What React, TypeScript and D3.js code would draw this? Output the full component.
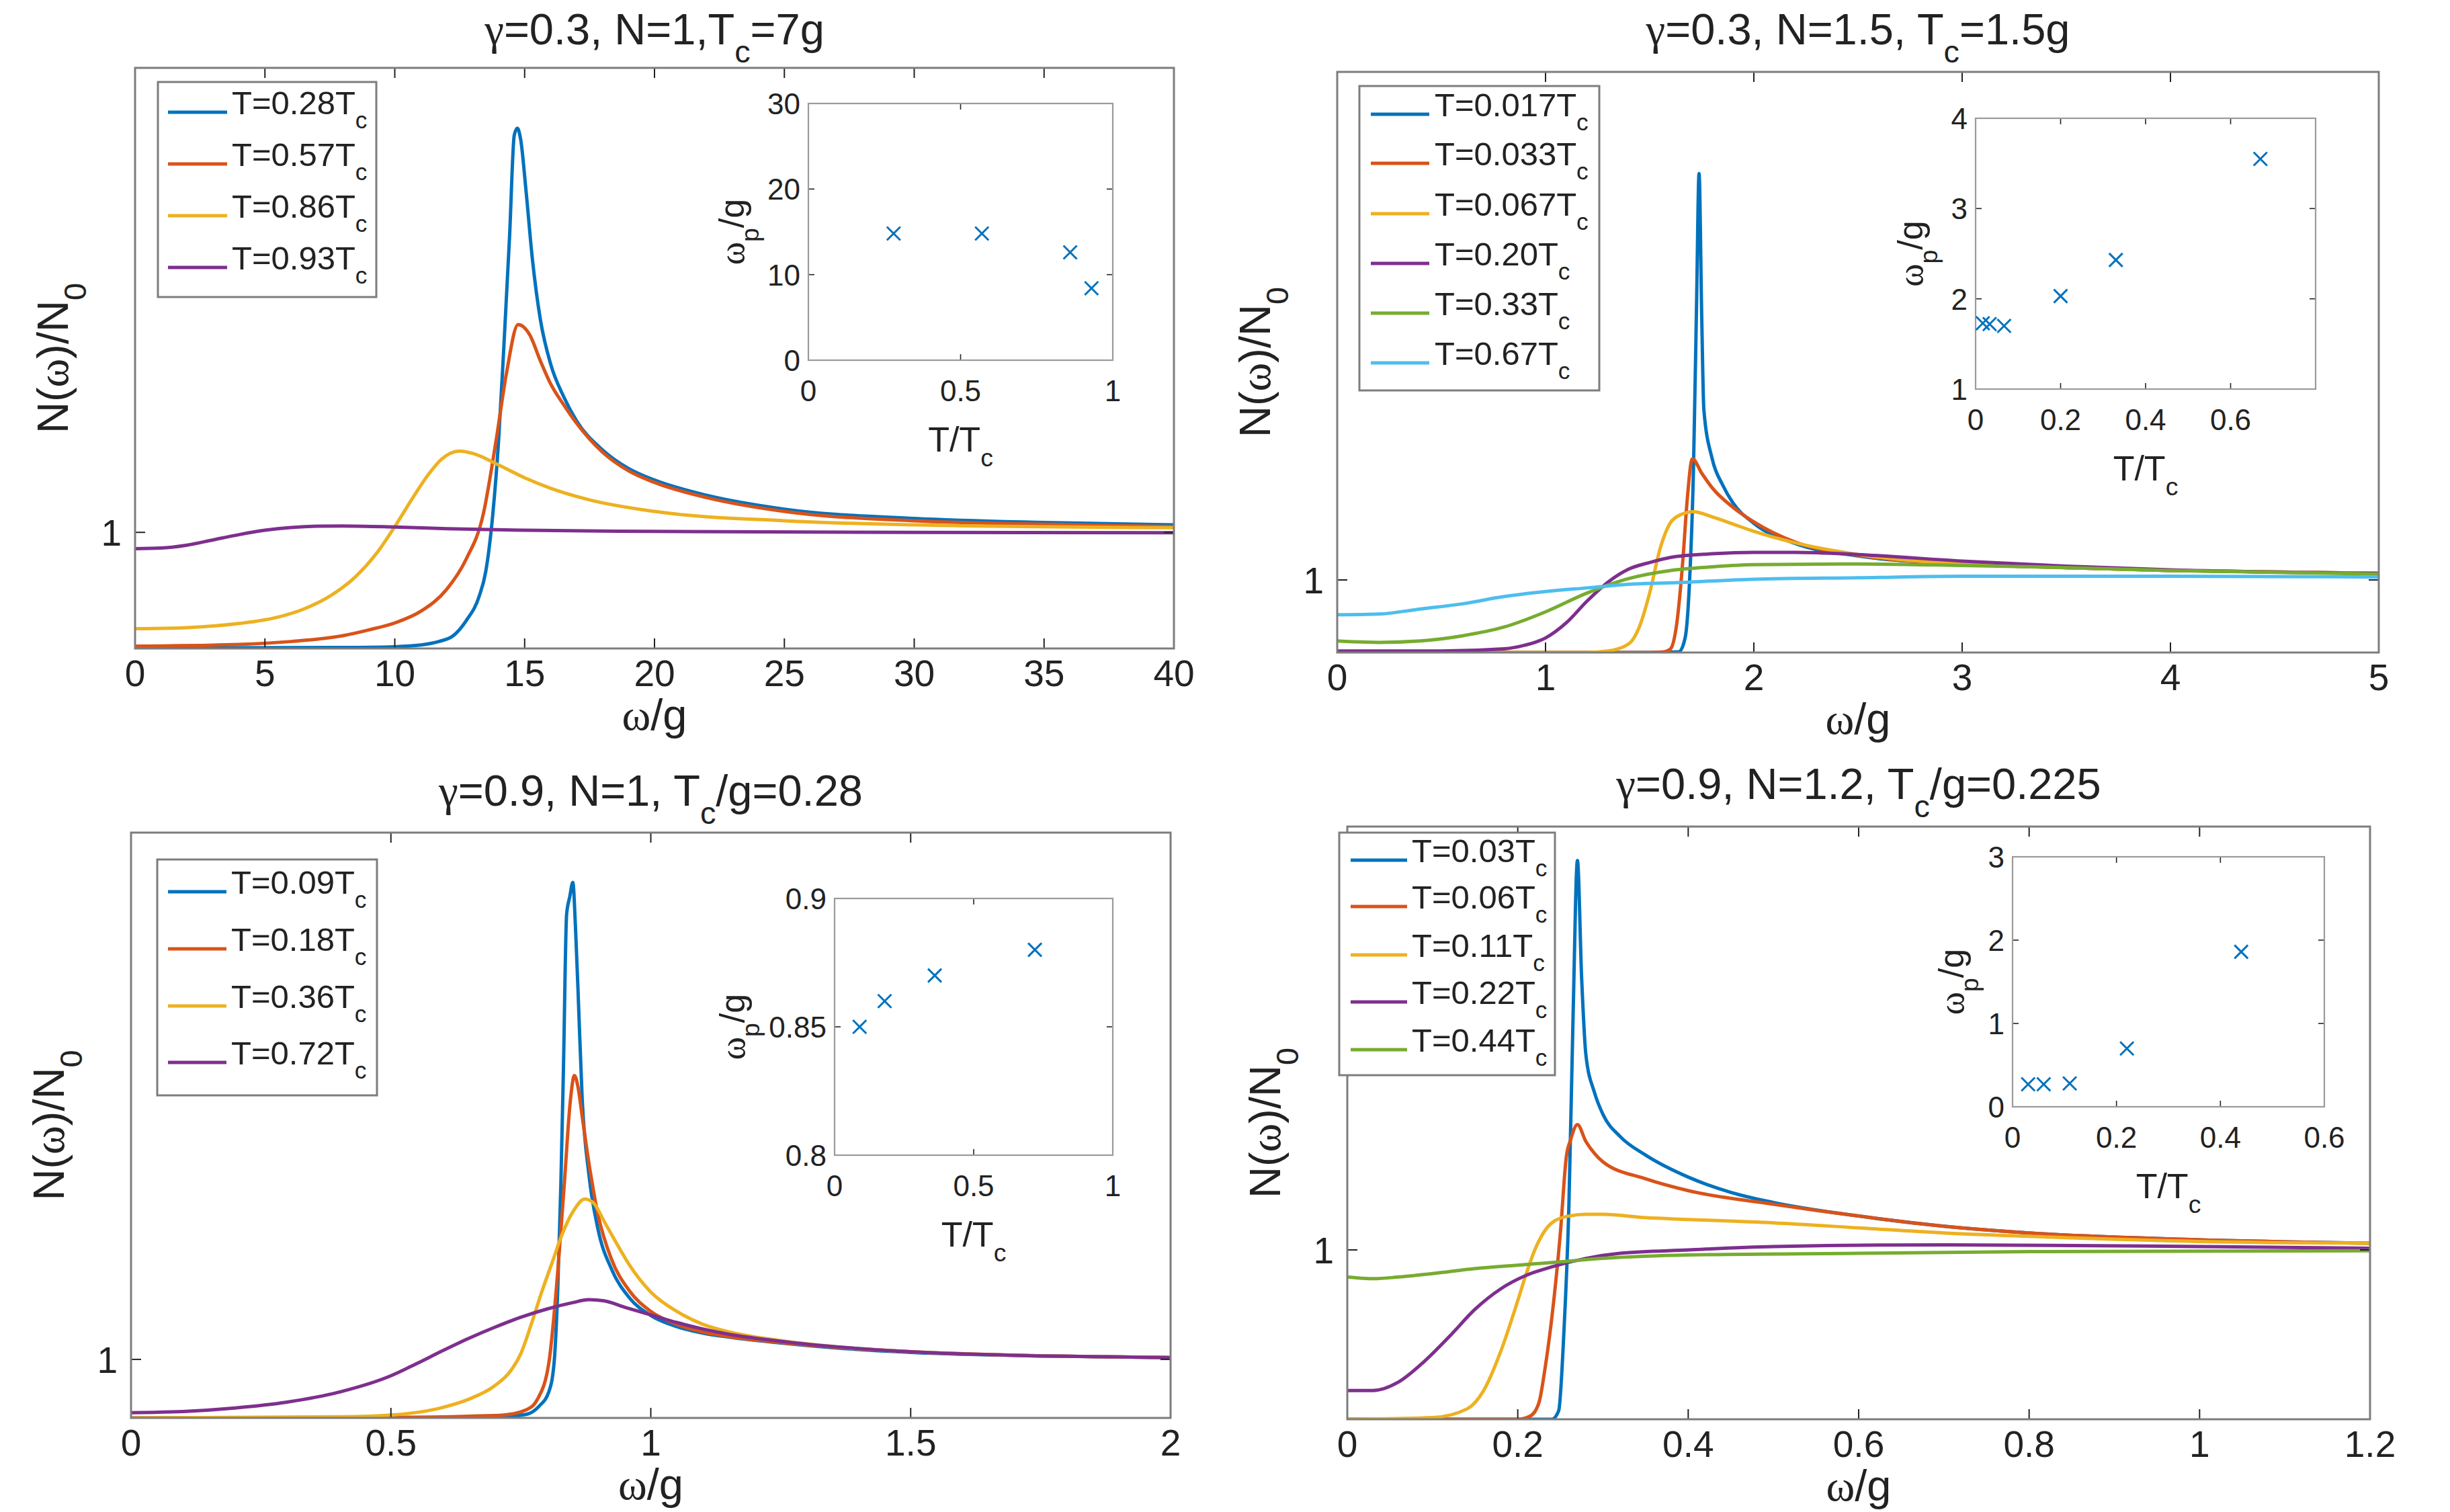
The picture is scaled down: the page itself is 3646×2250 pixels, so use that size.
import React from 'react';
import * as d3 from 'd3';

type Pt = [number, number];

// ---------- Panel A: γ=0.3, N=1, Tc=7g ----------
const aXTicks = [0, 5, 10, 15, 20, 25, 30, 35, 40];
const aLabels = ['0.28', '0.57', '0.86', '0.93'];
const aT028: Pt[] = [[0, 0.005], [8, 0.008], [10, 0.015], [11, 0.03], [11.7, 0.06], [12.25, 0.11], [12.75, 0.24], [13.25, 0.45], [13.5, 0.66], [13.75, 1.1], [14, 1.8], [14.2, 2.6], [14.42, 3.55], [14.6, 4.42], [14.72, 4.48], [14.85, 4.38], [15.05, 3.95], [15.3, 3.35], [15.6, 2.84], [16, 2.45], [16.5, 2.17], [17, 1.96], [18, 1.71], [19, 1.55], [20, 1.45], [22, 1.32], [25, 1.2], [30, 1.12], [35, 1.085], [40, 1.065]];
const aT057: Pt[] = [[0, 0.02], [4, 0.035], [6, 0.06], [8, 0.11], [9, 0.16], [10, 0.22], [11, 0.32], [12, 0.51], [12.75, 0.77], [13.4, 1.15], [13.9, 1.79], [14.3, 2.37], [14.75, 2.79], [15.2, 2.7], [15.6, 2.48], [16, 2.28], [16.5, 2.1], [17, 1.94], [18, 1.69], [19, 1.53], [20, 1.43], [22, 1.3], [25, 1.18], [30, 1.1], [35, 1.07], [40, 1.05]];
const aT086: Pt[] = [[0, 0.17], [2, 0.18], [4, 0.215], [5.5, 0.27], [6.5, 0.34], [7.5, 0.45], [8.5, 0.62], [9.3, 0.82], [10, 1.05], [10.7, 1.3], [11.3, 1.5], [11.8, 1.63], [12.5, 1.7], [13, 1.68], [14, 1.58], [15, 1.47], [16, 1.38], [17.5, 1.28], [20, 1.18], [25, 1.1], [30, 1.065], [40, 1.04]];
const aT093: Pt[] = [[0, 0.86], [1, 0.865], [2, 0.89], [3, 0.935], [4, 0.98], [5, 1.018], [6, 1.042], [7, 1.053], [8, 1.055], [10, 1.046], [12, 1.032], [15, 1.018], [20, 1.008], [30, 1.0], [40, 0.997]];
const aInsetT = [0.28, 0.57, 0.86, 0.93];
const aInsetW = [14.8, 14.8, 12.6, 8.4];
const aInsetXTicks = [0, 0.5, 1];
const aInsetYTicks = [0, 10, 20, 30];

// ---------- Panel B: γ=0.3, N=1.5, Tc=1.5g ----------
const bXTicks = [0, 1, 2, 3, 4, 5];
const bLabels = ['0.017', '0.033', '0.067', '0.20', '0.33', '0.67'];
const bT0017: Pt[] = [[0, 0], [1.5, 0], [1.64, 0.01], [1.67, 0.2], [1.69, 0.9], [1.71, 2.5], [1.725, 4.8], [1.737, 6.6], [1.75, 4.6], [1.76, 3.35], [1.8, 2.67], [1.85, 2.31], [1.9, 2.06], [2, 1.78], [2.2, 1.5], [2.5, 1.33], [3, 1.22], [3.5, 1.17], [4, 1.13], [5, 1.09]];
const bT0033: Pt[] = [[0, 0], [1.5, 0], [1.57, 0.01], [1.6, 0.05], [1.63, 0.4], [1.66, 1.3], [1.68, 2.1], [1.705, 2.67], [1.75, 2.47], [1.8, 2.27], [1.9, 2.0], [2, 1.8], [2.2, 1.52], [2.5, 1.34], [3, 1.22], [3.5, 1.17], [4, 1.13], [5, 1.09]];
const bT0067: Pt[] = [[0, 0], [1.2, 0], [1.3, 0.02], [1.4, 0.12], [1.45, 0.35], [1.5, 0.82], [1.55, 1.43], [1.6, 1.79], [1.65, 1.9], [1.71, 1.94], [1.8, 1.87], [1.9, 1.77], [2, 1.67], [2.2, 1.51], [2.5, 1.35], [3, 1.22], [3.5, 1.17], [4, 1.13], [5, 1.09]];
const bT020: Pt[] = [[0, 0.02], [0.5, 0.02], [0.8, 0.05], [0.9, 0.1], [1, 0.2], [1.1, 0.41], [1.2, 0.71], [1.3, 0.97], [1.4, 1.15], [1.5, 1.24], [1.6, 1.31], [1.8, 1.36], [2, 1.38], [2.2, 1.38], [2.5, 1.35], [3, 1.26], [3.5, 1.19], [4, 1.14], [5, 1.09]];
const bT033: Pt[] = [[0, 0.16], [0.2, 0.14], [0.4, 0.16], [0.6, 0.23], [0.8, 0.35], [1, 0.56], [1.2, 0.82], [1.4, 1.02], [1.6, 1.13], [1.8, 1.18], [2, 1.21], [2.5, 1.22], [3, 1.2], [3.5, 1.17], [4, 1.13], [5, 1.08]];
const bT067: Pt[] = [[0, 0.52], [0.2, 0.53], [0.4, 0.6], [0.6, 0.67], [0.8, 0.77], [1, 0.84], [1.2, 0.89], [1.4, 0.94], [1.6, 0.96], [2, 1.01], [2.5, 1.03], [3, 1.05], [4, 1.05], [5, 1.04]];
const bInsetT = [0.017, 0.033, 0.067, 0.2, 0.33, 0.67];
const bInsetW = [1.73, 1.72, 1.7, 2.03, 2.43, 3.55];
const bInsetXTicks = [0, 0.2, 0.4, 0.6];
const bInsetYTicks = [1, 2, 3, 4];

// ---------- Panel C: γ=0.9, N=1, Tc/g=0.28 ----------
const cXTicks = [0, 0.5, 1, 1.5, 2];
const cLabels = ['0.09', '0.18', '0.36', '0.72'];
const cT009: Pt[] = [[0, 0], [0.6, 0], [0.7, 0.01], [0.76, 0.06], [0.785, 0.2], [0.804, 0.45], [0.814, 0.95], [0.821, 2.2], [0.827, 4.0], [0.832, 6.0], [0.838, 8.6], [0.844, 8.9], [0.85, 9.15], [0.855, 8.4], [0.86, 7.3], [0.868, 5.45], [0.881, 4.15], [0.899, 3.2], [0.924, 2.55], [0.959, 2.05], [1, 1.75], [1.05, 1.56], [1.1, 1.45], [1.15, 1.38], [1.25, 1.28], [1.35, 1.2], [1.5, 1.12], [1.75, 1.06], [2, 1.03]];
const cT018: Pt[] = [[0, 0], [0.5, 0.01], [0.65, 0.03], [0.717, 0.05], [0.761, 0.14], [0.782, 0.32], [0.804, 0.95], [0.821, 2.5], [0.834, 4.05], [0.845, 5.4], [0.853, 5.85], [0.86, 5.65], [0.868, 5.15], [0.881, 4.35], [0.899, 3.45], [0.924, 2.72], [0.959, 2.17], [1, 1.82], [1.05, 1.6], [1.1, 1.47], [1.15, 1.39], [1.25, 1.29], [1.35, 1.21], [1.5, 1.13], [1.75, 1.06], [2, 1.03]];
const cT036: Pt[] = [[0, 0], [0.4, 0.02], [0.5, 0.05], [0.6, 0.18], [0.65, 0.32], [0.7, 0.55], [0.73, 0.8], [0.75, 1.1], [0.77, 1.6], [0.79, 2.15], [0.81, 2.65], [0.83, 3.15], [0.85, 3.52], [0.873, 3.74], [0.89, 3.67], [0.912, 3.33], [0.933, 3.0], [0.959, 2.61], [1, 2.15], [1.05, 1.82], [1.1, 1.6], [1.15, 1.47], [1.25, 1.32], [1.35, 1.22], [1.5, 1.13], [1.75, 1.06], [2, 1.03]];
const cT072: Pt[] = [[0, 0.09], [0.1, 0.11], [0.2, 0.17], [0.3, 0.27], [0.4, 0.44], [0.5, 0.72], [0.55, 0.93], [0.6, 1.15], [0.65, 1.36], [0.7, 1.55], [0.75, 1.72], [0.8, 1.86], [0.85, 1.97], [0.88, 2.02], [0.91, 2.0], [0.95, 1.89], [1, 1.76], [1.05, 1.63], [1.1, 1.52], [1.15, 1.43], [1.25, 1.31], [1.35, 1.22], [1.5, 1.13], [1.75, 1.06], [2, 1.03]];
const cInsetT = [0.09, 0.18, 0.36, 0.72];
const cInsetW = [0.85, 0.86, 0.87, 0.88];
const cInsetXTicks = [0, 0.5, 1];
const cInsetYTicks = [0.8, 0.85, 0.9];

// ---------- Panel D: γ=0.9, N=1.2, Tc/g=0.225 ----------
const dXTicks = [0, 0.2, 0.4, 0.6, 0.8, 1, 1.2];
const dLabels = ['0.03', '0.06', '0.11', '0.22', '0.44'];
const dT003: Pt[] = [[0, 0], [0.24, 0], [0.248, 0.05], [0.254, 0.5], [0.26, 1.26], [0.265, 2.4], [0.27, 3.3], [0.275, 2.6], [0.28, 2.15], [0.29, 1.93], [0.3, 1.8], [0.32, 1.67], [0.35, 1.56], [0.4, 1.43], [0.45, 1.34], [0.5, 1.28], [0.6, 1.2], [0.7, 1.14], [0.8, 1.1], [1, 1.06], [1.2, 1.04]];
const dT006: Pt[] = [[0, 0], [0.2, 0], [0.215, 0.02], [0.225, 0.1], [0.232, 0.3], [0.24, 0.6], [0.25, 1.1], [0.257, 1.55], [0.262, 1.65], [0.27, 1.74], [0.28, 1.64], [0.29, 1.57], [0.3, 1.52], [0.35, 1.42], [0.4, 1.35], [0.5, 1.27], [0.6, 1.2], [0.7, 1.14], [0.8, 1.1], [1, 1.06], [1.2, 1.04]];
const dT011: Pt[] = [[0, 0], [0.1, 0.01], [0.14, 0.06], [0.16, 0.17], [0.18, 0.4], [0.2, 0.7], [0.21, 0.86], [0.22, 1.0], [0.23, 1.1], [0.24, 1.16], [0.26, 1.2], [0.28, 1.21], [0.3, 1.21], [0.35, 1.19], [0.4, 1.18], [0.5, 1.16], [0.6, 1.13], [0.7, 1.1], [0.8, 1.08], [1, 1.05], [1.2, 1.04]];
const dT022: Pt[] = [[0, 0.17], [0.03, 0.17], [0.06, 0.22], [0.09, 0.34], [0.12, 0.49], [0.15, 0.65], [0.18, 0.77], [0.21, 0.85], [0.24, 0.9], [0.28, 0.95], [0.32, 0.98], [0.4, 1.0], [0.5, 1.02], [0.7, 1.03], [1, 1.02], [1.2, 1.01]];
const dT044: Pt[] = [[0, 0.84], [0.03, 0.83], [0.06, 0.84], [0.1, 0.86], [0.15, 0.89], [0.2, 0.91], [0.25, 0.93], [0.3, 0.95], [0.4, 0.97], [0.6, 0.98], [0.8, 0.99], [1.2, 0.995]];
const dInsetT = [0.03, 0.06, 0.11, 0.22, 0.44];
const dInsetW = [0.27, 0.27, 0.28, 0.7, 1.86];
const dInsetXTicks = [0, 0.2, 0.4, 0.6];
const dInsetYTicks = [0, 1, 2, 3];

// ---------- styling ----------
const LINE_COLORS = ['#0072BD', '#D95319', '#EDB120', '#7E2F8E', '#77AC30', '#4DBEEE'];
const FONT = '"Liberation Sans", Arial, Helvetica, sans-serif';
const GREEK = '"Liberation Serif", "DejaVu Serif", serif';
const INK = '#222222';
const FRAME = '#7d7d7d';

type Run = { t: string; sub?: boolean; greek?: boolean };

function Rich({ runs, x, y, size, anchor = 'start', rotate = false }: {
  runs: Run[]; x: number; y: number; size: number; anchor?: string; rotate?: boolean;
}) {
  const shift = size * 0.42;
  let lowered = false;
  const spans = runs.map((r, i) => {
    let dy: number | undefined;
    if (r.sub && !lowered) { dy = shift; lowered = true; }
    else if (!r.sub && lowered) { dy = -shift; lowered = false; }
    return (
      <tspan key={i} dy={dy} fontSize={r.sub ? size * 0.72 : undefined}
        fontFamily={r.greek ? GREEK : undefined}>{r.t}</tspan>
    );
  });
  const transform = rotate ? `translate(${x},${y}) rotate(-90)` : `translate(${x},${y})`;
  return (
    <text transform={transform} fontSize={size} fontFamily={FONT} textAnchor={anchor as any} fill={INK}>
      {spans}
    </text>
  );
}

interface Box { left: number; right: number; top: number; bottom: number }
interface LegendLayout { box: Box; rows: number[]; lineX0: number; lineX1: number; textX: number }
interface InsetLayout extends Box { ylabOffset: number }
interface PanelLayout extends Box { titleY: number; legend: LegendLayout; inset: InsetLayout }

interface PanelSpec {
  id: string;
  title: Run[];
  xDomain: [number, number];
  yDomain: [number, number];
  xTicks: number[];
  curves: Pt[][];
  labels: string[];
  insetT: number[];
  insetW: number[];
  insetXDomain: [number, number];
  insetYDomain: [number, number];
  insetXTicks: number[];
  insetYTicks: number[];
  layout: PanelLayout;
}

const TICK_FONT = 55;
const LEGEND_FONT = 49;
const LABEL_FONT = 65;
const INSET_TICK_FONT = 44;
const INSET_LABEL_FONT = 52;

function Inset({ spec }: { spec: PanelSpec }) {
  const L = spec.layout.inset;
  const x = d3.scaleLinear().domain(spec.insetXDomain).range([L.left, L.right]);
  const y = d3.scaleLinear().domain(spec.insetYDomain).range([L.bottom, L.top]);
  const tl = 9;
  const m = 10;
  return (
    <g>
      <rect x={L.left} y={L.top} width={L.right - L.left} height={L.bottom - L.top} fill="#fff" stroke="none" />
      {spec.insetXTicks.map((t) => (
        <g key={'x' + t}>
          <line x1={x(t)} x2={x(t)} y1={L.bottom} y2={L.bottom - tl} stroke={INK} strokeWidth={1.6} />
          <line x1={x(t)} x2={x(t)} y1={L.top} y2={L.top + tl} stroke={INK} strokeWidth={1.6} />
          <text x={x(t)} y={L.bottom + 61} fontSize={INSET_TICK_FONT} fontFamily={FONT} textAnchor="middle" fill={INK}>{String(t)}</text>
        </g>
      ))}
      {spec.insetYTicks.map((t) => (
        <g key={'y' + t}>
          <line x1={L.left} x2={L.left + tl} y1={y(t)} y2={y(t)} stroke={INK} strokeWidth={1.6} />
          <line x1={L.right} x2={L.right - tl} y1={y(t)} y2={y(t)} stroke={INK} strokeWidth={1.6} />
          <text x={L.left - 12} y={y(t) + 16} fontSize={INSET_TICK_FONT} fontFamily={FONT} textAnchor="end" fill={INK}>{String(t)}</text>
        </g>
      ))}
      <rect x={L.left} y={L.top} width={L.right - L.left} height={L.bottom - L.top} fill="none" stroke="#9a9a9a" strokeWidth={2.2} />
      {spec.insetT.map((t, i) => {
        const cx = x(t);
        const cy = y(spec.insetW[i]);
        return (
          <path key={i} d={`M${cx - m},${cy - m}L${cx + m},${cy + m}M${cx - m},${cy + m}L${cx + m},${cy - m}`}
            stroke={LINE_COLORS[0]} strokeWidth={3} fill="none" />
        );
      })}
      <Rich runs={[{ t: 'T/T' }, { t: 'c', sub: true }]} x={(L.left + L.right) / 2} y={L.bottom + 136}
        size={INSET_LABEL_FONT} anchor="middle" />
      <Rich runs={[{ t: 'ω', greek: true }, { t: 'p', sub: true }, { t: '/g' }]} x={L.left - L.ylabOffset}
        y={(L.top + L.bottom) / 2} size={INSET_LABEL_FONT} anchor="middle" rotate />
    </g>
  );
}

function Panel({ spec }: { spec: PanelSpec }) {
  const L = spec.layout;
  const x = d3.scaleLinear().domain(spec.xDomain).range([L.left, L.right]);
  const y = d3.scaleLinear().domain(spec.yDomain).range([L.bottom, L.top]);
  const line = d3.line<Pt>().x((d) => x(d[0])).y((d) => y(d[1])).curve(d3.curveMonotoneX);
  const clipId = 'clip-' + spec.id;
  const tl = 15;
  const lg = L.legend;
  const cx = (L.left + L.right) / 2;
  const cy = (L.top + L.bottom) / 2;
  return (
    <g>
      <defs>
        <clipPath id={clipId}>
          <rect x={L.left} y={L.top} width={L.right - L.left} height={L.bottom - L.top} />
        </clipPath>
      </defs>
      <g clipPath={`url(#${clipId})`}>
        {spec.curves.map((c, i) => (
          <path key={i} d={line(c) || ''} fill="none" stroke={LINE_COLORS[i]} strokeWidth={5}
            strokeLinejoin="round" strokeLinecap="round" />
        ))}
      </g>
      {spec.xTicks.map((t) => (
        <g key={'xt' + t}>
          <line x1={x(t)} x2={x(t)} y1={L.bottom} y2={L.bottom - tl} stroke={INK} strokeWidth={2} />
          <line x1={x(t)} x2={x(t)} y1={L.top} y2={L.top + tl} stroke={INK} strokeWidth={2} />
          <text x={x(t)} y={L.bottom + 56} fontSize={TICK_FONT} fontFamily={FONT} textAnchor="middle" fill={INK}>{String(t)}</text>
        </g>
      ))}
      <line x1={L.left} x2={L.left + tl} y1={y(1)} y2={y(1)} stroke={INK} strokeWidth={2} />
      <line x1={L.right} x2={L.right - tl} y1={y(1)} y2={y(1)} stroke={INK} strokeWidth={2} />
      <text x={L.left - 20} y={y(1) + 20} fontSize={TICK_FONT} fontFamily={FONT} textAnchor="end" fill={INK}>1</text>
      <rect x={L.left} y={L.top} width={L.right - L.left} height={L.bottom - L.top} fill="none" stroke={FRAME} strokeWidth={3} />
      <Rich runs={spec.title} x={cx} y={L.titleY} size={LABEL_FONT} anchor="middle" />
      <Rich runs={[{ t: 'ω', greek: true }, { t: '/g' }]} x={cx} y={L.bottom + 121} size={LABEL_FONT} anchor="middle" />
      <Rich runs={[{ t: 'N(' }, { t: 'ω', greek: true }, { t: ')/N' }, { t: '0', sub: true }]}
        x={L.left - 100} y={cy} size={LABEL_FONT} anchor="middle" rotate />
      <rect x={lg.box.left} y={lg.box.top} width={lg.box.right - lg.box.left} height={lg.box.bottom - lg.box.top}
        fill="#fff" stroke={FRAME} strokeWidth={3} />
      {spec.labels.map((lab, i) => (
        <g key={'lg' + i}>
          <line x1={lg.lineX0} x2={lg.lineX1} y1={lg.rows[i]} y2={lg.rows[i]} stroke={LINE_COLORS[i]} strokeWidth={5} />
          <Rich runs={[{ t: `T=${lab}T` }, { t: 'c', sub: true }]} x={lg.textX} y={lg.rows[i] + 3} size={LEGEND_FONT} />
        </g>
      ))}
      <Inset spec={spec} />
    </g>
  );
}

const panels: PanelSpec[] = [
  {
    id: 'a',
    title: [{ t: 'γ', greek: true }, { t: '=0.3, N=1,T' }, { t: 'c', sub: true }, { t: '=7g' }],
    xDomain: [0, 40], yDomain: [0, 5], xTicks: aXTicks,
    curves: [aT028, aT057, aT086, aT093], labels: aLabels,
    insetT: aInsetT, insetW: aInsetW, insetXDomain: [0, 1], insetYDomain: [0, 30],
    insetXTicks: aInsetXTicks, insetYTicks: aInsetYTicks,
    layout: {
      left: 201, right: 1747, top: 101, bottom: 965, titleY: 66,
      legend: { box: { left: 235, right: 560, top: 122, bottom: 442 }, rows: [167, 244, 321, 398], lineX0: 250, lineX1: 338, textX: 345 },
      inset: { left: 1203, right: 1656, top: 154, bottom: 536, ylabOffset: 96 },
    },
  },
  {
    id: 'b',
    title: [{ t: 'γ', greek: true }, { t: '=0.3, N=1.5, T' }, { t: 'c', sub: true }, { t: '=1.5g' }],
    xDomain: [0, 5], yDomain: [0, 8], xTicks: bXTicks,
    curves: [bT0017, bT0033, bT0067, bT020, bT033, bT067], labels: bLabels,
    insetT: bInsetT, insetW: bInsetW, insetXDomain: [0, 0.8], insetYDomain: [1, 4],
    insetXTicks: bInsetXTicks, insetYTicks: bInsetYTicks,
    layout: {
      left: 1990, right: 3540, top: 107, bottom: 971, titleY: 66,
      legend: { box: { left: 2023, right: 2380, top: 128, bottom: 581 }, rows: [170, 243, 318, 392, 466, 540], lineX0: 2040, lineX1: 2127, textX: 2135 },
      inset: { left: 2940, right: 3446, top: 176, bottom: 579, ylabOffset: 79 },
    },
  },
  {
    id: 'c',
    title: [{ t: 'γ', greek: true }, { t: '=0.9, N=1, T' }, { t: 'c', sub: true }, { t: '/g=0.28' }],
    xDomain: [0, 2], yDomain: [0, 10], xTicks: cXTicks,
    curves: [cT009, cT018, cT036, cT072], labels: cLabels,
    insetT: cInsetT, insetW: cInsetW, insetXDomain: [0, 1], insetYDomain: [0.8, 0.9],
    insetXTicks: cInsetXTicks, insetYTicks: cInsetYTicks,
    layout: {
      left: 195, right: 1742, top: 1239, bottom: 2110, titleY: 1199,
      legend: { box: { left: 234, right: 561, top: 1279, bottom: 1630 }, rows: [1327, 1412, 1497, 1581], lineX0: 250, lineX1: 337, textX: 344 },
      inset: { left: 1242, right: 1656, top: 1337, bottom: 1719, ylabOffset: 134 },
    },
  },
  {
    id: 'd',
    title: [{ t: 'γ', greek: true }, { t: '=0.9, N=1.2, T' }, { t: 'c', sub: true }, { t: '/g=0.225' }],
    xDomain: [0, 1.2], yDomain: [0, 3.5], xTicks: dXTicks,
    curves: [dT003, dT006, dT011, dT022, dT044], labels: dLabels,
    insetT: dInsetT, insetW: dInsetW, insetXDomain: [0, 0.6], insetYDomain: [0, 3],
    insetXTicks: dInsetXTicks, insetYTicks: dInsetYTicks,
    layout: {
      left: 2005, right: 3527, top: 1230, bottom: 2112, titleY: 1189,
      legend: { box: { left: 1993, right: 2314, top: 1239, bottom: 1600 }, rows: [1280, 1349, 1421, 1491, 1562], lineX0: 2010, lineX1: 2094, textX: 2101 },
      inset: { left: 2995, right: 3459, top: 1275, bottom: 1647, ylabOffset: 73 },
    },
  },
];

export default function App() {
  return (
    <svg width={3646} height={2250} viewBox="0 0 3646 2250"
      style={{ position: 'absolute', left: 0, top: 0, display: 'block', background: '#fff' }}>
      <rect x={0} y={0} width={3646} height={2250} fill="#fff" />
      {panels.map((p) => <Panel key={p.id} spec={p} />)}
    </svg>
  );
}
